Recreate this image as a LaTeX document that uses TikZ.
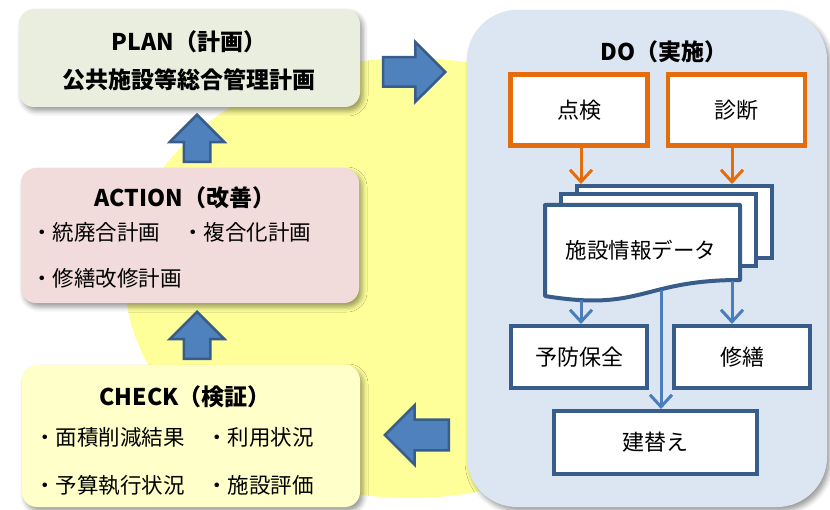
\documentclass[tikz,border=0pt]{standalone}
\usepackage{fontspec}
\setmainfont{Noto Sans CJK JP}
\usetikzlibrary{arrows.meta,shapes.arrows,shadows.blur}

\begin{document}
\begin{tikzpicture}[x=1pt,y=-1pt,
  every node/.style={inner sep=0pt},
  phase/.style={rounded corners=15pt,blur shadow={shadow xshift=3pt,shadow yshift=-4pt,shadow blur radius=5pt,shadow opacity=40}},
  headline/.style={font=\fontsize{23}{28}\selectfont\bfseries},
  itemtext/.style={anchor=west,font=\fontsize{21.5}{26}\selectfont},
  inspect/.style={draw=orangeline,line width=4.5pt,fill=white,minimum width=137pt,minimum height=71pt,font=\fontsize{22}{26}\selectfont},
  page/.style={draw=arrline,line width=4pt,fill=white,minimum width=195pt,minimum height=72pt},
  result/.style={draw=arrline,line width=4pt,fill=white,minimum width=136pt,minimum height=62pt,font=\fontsize{22}{26}\selectfont},
  feed/.style={line width=3pt,-{Straight Barb[length=12pt,width=22pt]}},
  blockarrow/.style={single arrow,fill=arrfill,draw=arrline,line width=2.5pt,anchor=tip,inner xsep=0pt}]
\definecolor{planfill}{HTML}{EAEEDF}
\definecolor{actfill}{HTML}{F2DCDB}
\definecolor{chkfill}{HTML}{FFFFC9}
\definecolor{dofill}{HTML}{DCE6F2}
\definecolor{cyclefill}{HTML}{FFFF99}
\definecolor{arrfill}{HTML}{4F81BD}
\definecolor{arrline}{HTML}{385D8A}
\definecolor{orangeline}{HTML}{E46C0A}
\definecolor{dataline}{HTML}{4A7EBB}

\useasboundingbox (0,0) rectangle (830,510);
\fill[cyclefill] (410,278) ellipse [x radius=285pt, y radius=220pt];

\node[phase,fill=planfill,minimum width=341pt,minimum height=98pt] (plan) at (189.5,58) {};
\node[phase,fill=actfill,minimum width=338pt,minimum height=135pt] (action) at (190,235.5) {};
\node[phase,fill=chkfill,minimum width=338pt,minimum height=142pt] (check) at (191,436) {};
\node[phase,rounded corners=50pt,fill=dofill,minimum width=360pt,minimum height=497pt] (do) at (647,258.5) {};

\node[headline] (plantitle) at (189,42) {PLAN（計画）};
\node[headline] (planname) at (189,80) {公共施設等総合管理計画};

\node[headline] (acttitle) at (185,198) {ACTION（改善）};
\node[itemtext] (act1) at (31,232) {・統廃合計画};
\node[itemtext] (act2) at (182,232) {・複合化計画};
\node[itemtext] (act3) at (31,278) {・修繕改修計画};

\node[headline] (chktitle) at (185,397) {CHECK（検証）};
\node[itemtext] (chk1) at (34,437) {・面積削減結果};
\node[itemtext] (chk2) at (206,437) {・利用状況};
\node[itemtext] (chk3) at (34,485) {・予算執行状況};
\node[itemtext] (chk4) at (206,485) {・施設評価};

\node[headline] (dotitle) at (664,52) {DO（実施）};
\node[inspect] (tenken) at (579,110) {点検};
\node[inspect] (shindan) at (736.5,110) {診断};

\node[page] (back) at (674,222) {};
\node[page] (middle) at (658.5,230.5) {};
\draw[arrline,line width=4pt,fill=white,line join=round] (545,205) -- (740,205) -- (740,280)
  .. controls (642,280) and (642,312) .. (545,296) -- cycle;
\node[font=\fontsize{21.5}{26}\selectfont] (data) at (641,250) {施設情報データ};
\coordinate (docA) at (581,300);
\coordinate (docM) at (661,290);
\coordinate (docR) at (732,281);

\node[result] (yobo) at (579,357) {予防保全};
\node[result] (shuzen) at (742,357) {修繕};
\node[result,minimum width=203pt,minimum height=63pt] (tatekae) at (655.5,442.5) {建替え};

\draw[feed,orangeline] (tenken.south -| docA) -- (docA |- back.north);
\draw[feed,orangeline] (shindan.south -| docR) -- (docR |- back.north);
\draw[feed,dataline] (docA) -- (docA |- yobo.north);
\draw[feed,dataline] (docM) -- (docM |- tatekae.north);
\draw[feed,dataline] (docR) -- (docR |- shuzen.north);

\node[blockarrow,minimum height=62pt,minimum width=57pt,inner ysep=13.5pt,single arrow head extend=15pt] (todo) at (447,72) {};
\node[blockarrow,rotate=180,minimum height=64pt,minimum width=57pt,inner ysep=14pt,single arrow head extend=14.5pt] (tocheck) at (383,435) {};
\foreach \i/\y in {1/113,2/310}
  \node[blockarrow,rotate=90,minimum height=47pt,minimum width=52pt,inner ysep=12pt,single arrow head extend=14pt] (up\i) at (197,\y) {};
\end{tikzpicture}
\end{document}
